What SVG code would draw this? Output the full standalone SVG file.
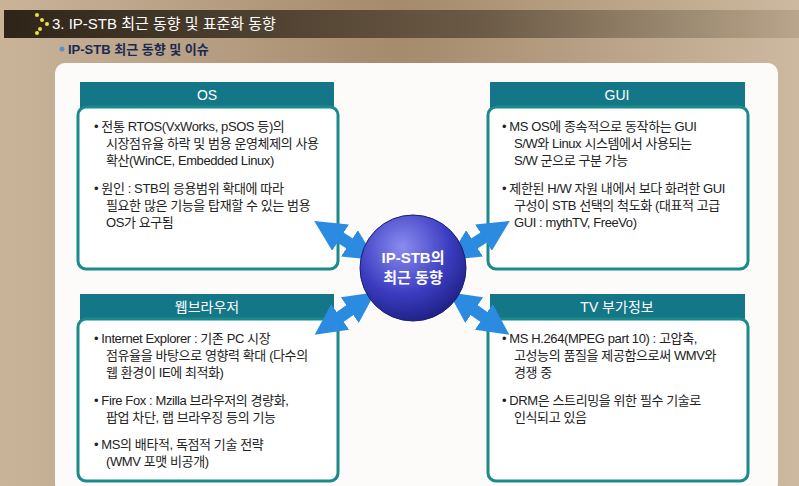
<svg xmlns="http://www.w3.org/2000/svg" width="799" height="486" viewBox="0 0 799 486">
<defs>
<linearGradient id="bg" x1="0" y1="0" x2="1" y2="0"><stop offset="0" stop-color="#c9b49a"/><stop offset="0.5" stop-color="#a58a6c"/><stop offset="1" stop-color="#cdb9a0"/></linearGradient>
<linearGradient id="bar" x1="0" y1="0" x2="1" y2="0"><stop offset="0" stop-color="#2e2418"/><stop offset="0.6" stop-color="#6b5a45"/><stop offset="1" stop-color="#b9a58b"/></linearGradient>
<radialGradient id="ball" cx="0.4" cy="0.3" r="0.75"><stop offset="0" stop-color="#8a8cf0"/><stop offset="0.6" stop-color="#3a3cc0"/><stop offset="1" stop-color="#1c1e80"/></radialGradient>
<marker id="ah" viewBox="0 0 10 10" refX="4" refY="5" markerWidth="2.6" markerHeight="2.6" orient="auto-start-reverse"><path d="M0,0 L10,5 L0,10 z" fill="#2a8be0"/></marker>
<style>
.hdr{fill:#147787}
.box{fill:#fff;stroke:#1b8a8a;stroke-width:3}
.ht{font-family:"Liberation Sans","Noto Sans CJK KR",sans-serif;font-size:14px;fill:#fff;text-anchor:middle}
.t{font-family:"Liberation Sans","Noto Sans CJK KR",sans-serif;font-size:13px;fill:#222;letter-spacing:-0.4px}
.arr{stroke:#2a8be0;stroke-width:12;fill:none;marker-start:url(#ah);marker-end:url(#ah)}
</style>
</defs>
<rect width="799" height="486" fill="url(#bg)"/>
<rect x="4" y="10" width="795" height="28" fill="url(#bar)"/>
<g fill="#f0e040"><circle cx="37" cy="15" r="2"/><circle cx="42" cy="20" r="2"/><circle cx="47" cy="24" r="2"/><circle cx="40" cy="29" r="2"/><circle cx="37" cy="33" r="2"/></g>
<text x="52" y="29" font-family="Liberation Sans,Noto Sans CJK KR,sans-serif" font-size="15" fill="#fff">3. IP-STB 최근 동향 및 표준화 동향</text>
<circle cx="62" cy="49" r="2.5" fill="#5a8fd0"/>
<text x="68" y="54" font-family="Liberation Sans,Noto Sans CJK KR,sans-serif" font-size="13" font-weight="bold" fill="#1a2a50">IP-STB 최근 동향 및 이슈</text>
<rect x="55" y="63" width="723" height="430" rx="10" fill="#fdfbf9"/>
<g id="os">
<rect class="hdr" x="80" y="82" width="254" height="26"/>
<text class="ht" x="207" y="100">OS</text>
<rect class="box" x="78" y="107" width="260" height="162" rx="8"/>
<text class="t"><tspan x="94" y="131">• 전통 RTOS(VxWorks, pSOS 등)의</tspan><tspan x="106" y="148">시장점유율 하락 및 범용 운영체제의 사용</tspan><tspan x="106" y="165">확산(WinCE, Embedded Linux)</tspan><tspan x="94" y="193">• 원인 : STB의 응용범위 확대에 따라</tspan><tspan x="106" y="210">필요한 많은 기능을 탑재할 수 있는 범용</tspan><tspan x="106" y="227">OS가 요구됨</tspan></text>
</g>
<g id="gui">
<rect class="hdr" x="490" y="82" width="255" height="26"/>
<text class="ht" x="617" y="100">GUI</text>
<rect class="box" x="488" y="107" width="260" height="162" rx="8"/>
<text class="t"><tspan x="502" y="131">• MS OS에 종속적으로 동작하는 GUI</tspan><tspan x="514" y="148">S/W와 Linux 시스템에서 사용되는</tspan><tspan x="514" y="165">S/W 군으로 구분 가능</tspan><tspan x="502" y="193">• 제한된 H/W 자원 내에서 보다 화려한 GUI</tspan><tspan x="514" y="210">구성이 STB 선택의 척도화 (대표적 고급</tspan><tspan x="514" y="227">GUI : mythTV, FreeVo)</tspan></text>
</g>
<g id="web">
<rect class="hdr" x="80" y="294" width="254" height="26"/>
<text class="ht" x="207" y="312">웹브라우저</text>
<rect class="box" x="78" y="319" width="260" height="162" rx="8"/>
<text class="t"><tspan x="94" y="343">• Internet Explorer : 기존 PC 시장</tspan><tspan x="106" y="360">점유율을 바탕으로 영향력 확대 (다수의</tspan><tspan x="106" y="377">웹 환경이 IE에 최적화)</tspan><tspan x="94" y="405">• Fire Fox : Mzilla 브라우저의 경량화,</tspan><tspan x="106" y="422">팝업 차단, 랩 브라우징 등의 기능</tspan><tspan x="94" y="449">• MS의 배타적, 독점적 기술 전략</tspan><tspan x="106" y="466">(WMV 포맷 비공개)</tspan></text>
</g>
<g id="tv">
<rect class="hdr" x="490" y="294" width="255" height="26"/>
<text class="ht" x="617" y="312">TV 부가정보</text>
<rect class="box" x="488" y="319" width="260" height="162" rx="8"/>
<text class="t"><tspan x="502" y="343">• MS H.264(MPEG part 10) : 고압축,</tspan><tspan x="514" y="360">고성능의 품질을 제공함으로써 WMV와</tspan><tspan x="514" y="377">경쟁 중</tspan><tspan x="502" y="405">• DRM은 스트리밍을 위한 필수 기술로</tspan><tspan x="514" y="422">인식되고 있음</tspan></text>
</g>
<g id="connectors">
<line class="arr" x1="330" y1="231" x2="360" y2="250"/>
<line class="arr" x1="494" y1="231" x2="464" y2="250"/>
<line class="arr" x1="330" y1="324" x2="360" y2="303"/>
<line class="arr" x1="494" y1="324" x2="464" y2="303"/>
</g>
<g id="center">
<circle cx="413" cy="268" r="53" fill="url(#ball)" stroke="#1a1c70" stroke-width="1"/>
<text x="413" y="263" text-anchor="middle" font-family="Liberation Sans,Noto Sans CJK KR,sans-serif" font-size="15" font-weight="bold" fill="#fff">IP-STB의</text>
<text x="413" y="283" text-anchor="middle" font-family="Liberation Sans,Noto Sans CJK KR,sans-serif" font-size="15" font-weight="bold" fill="#fff">최근 동향</text>
</g>
</svg>
